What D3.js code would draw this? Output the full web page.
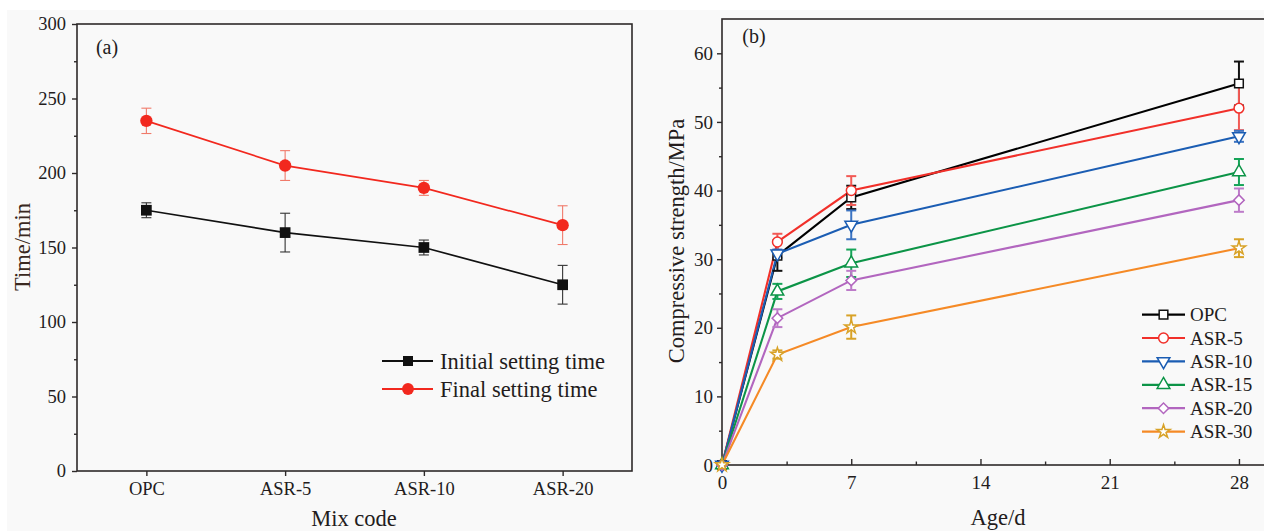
<!DOCTYPE html>
<html>
<head>
<meta charset="utf-8">
<script src="https://cdn.jsdelivr.net/npm/d3@7"></script>
<style>
body { margin: 0; background: #fff; }
svg { display: block; font-family: "Liberation Serif", "Times New Roman", serif; }
</style>
</head>
<body>
<div id="container"></div>
<script>
// panel (a) - setting time
const mixCodes = ["OPC", "ASR-5", "ASR-10", "ASR-20"]
const initialTime = [175, 160, 150, 125]
const initialErr = [5, 13, 5, 13]
const finalTime = [235, 205, 190, 165]
const finalErr = [8.5, 10, 5, 13]
const timeTicks = [0, 50, 100, 150, 200, 250, 300]

// panel (b) - compressive strength
const ages = [0, 3, 7, 28]
const seriesNames = ["OPC", "ASR-5", "ASR-10", "ASR-15", "ASR-20", "ASR-30"]
const opcStrength = [0, 30.5, 39, 55.6]
const opcErr = [0, 2.2, 1.7, 3.2]
const asr5Strength = [0, 32.5, 40, 52]
const asr5Err = [0, 1.2, 2.1, 3.2]
const asr10Strength = [0, 30.8, 35, 47.9]
const asr10Err = [0, 0.6, 2.1, 0.8]
const asr15Strength = [0, 25.3, 29.4, 42.7]
const asr15Err = [0, 1.1, 2, 1.9]
const asr20Strength = [0, 21.4, 26.9, 38.6]
const asr20Err = [0, 1.3, 1.4, 1.7]
const asr30Strength = [0, 16.1, 20.1, 31.6]
const asr30Err = [0, 0.6, 1.7, 1.3]
const ageTicks = [0, 7, 14, 21, 28]
const strengthTicks = [0, 10, 20, 30, 40, 50, 60]

const width = 1264
const height = 531
const textColor = "#231c1c"
const frameColor = "#2e2a2a"

const svg = d3.select("#container").append("svg")
    .attr("width", width)
    .attr("height", height)

svg.append("rect")
    .attr("x", 7).attr("y", 10)
    .attr("width", width - 7).attr("height", height - 10)
    .attr("fill", "#f9f9f9")

function styleAxis(g, fontSize){
    g.select(".domain").remove()
    g.selectAll("line").attr("stroke", frameColor).attr("stroke-width", 1.4)
    g.selectAll("text").attr("fill", textColor).style("font-size", fontSize + "px")
        .style("font-family", "'Liberation Serif', 'Times New Roman', serif")
}

// ---------- panel (a) ----------
const a = {left: 77, right: 632, top: 24, bottom: 471}

const xa = d3.scalePoint()
    .domain(mixCodes)
    .range([a.left, a.right])
    .padding(0.5)

const ya = d3.scaleLinear()
    .domain([0, 300])
    .range([a.bottom, a.top])

svg.append("g")
    .attr("transform", `translate(0, ${a.bottom})`)
    .call(d3.axisBottom(xa).tickSize(5).tickPadding(6))
    .call(g => styleAxis(g, 18.5))

svg.append("g")
    .attr("transform", `translate(${a.left}, 0)`)
    .call(d3.axisLeft(ya).tickValues(timeTicks).tickSize(5).tickPadding(6))
    .call(g => styleAxis(g, 18.5))

svg.append("g")
    .attr("transform", `translate(${a.left}, 0)`)
    .call(d3.axisLeft(ya).tickValues(d3.range(25, 300, 50)).tickSize(3).tickFormat(""))
    .call(g => styleAxis(g, 18.5))

svg.append("rect")
    .attr("x", a.left).attr("y", a.top)
    .attr("width", a.right - a.left).attr("height", a.bottom - a.top)
    .attr("fill", "none").attr("stroke", frameColor).attr("stroke-width", 1.6)

const setting = [
    {name: "Initial setting time", values: initialTime, err: initialErr, color: "#111", errColor: "#333", shape: "square"},
    {name: "Final setting time", values: finalTime, err: finalErr, color: "#f2281e", errColor: "#f07a6a", shape: "circle"}
]

const lineA = d3.line()
    .x((d, i) => xa(mixCodes[i]))
    .y(d => ya(d))

setting.forEach(s => {
    svg.append("path")
        .datum(s.values)
        .attr("d", lineA)
        .attr("fill", "none")
        .attr("stroke", s.color)
        .attr("stroke-width", 1.7)

    const eb = svg.append("g").attr("stroke", s.errColor).attr("stroke-width", 1.1)
    s.values.forEach((v, i) => {
        const x = xa(mixCodes[i])
        eb.append("line").attr("x1", x).attr("x2", x).attr("y1", ya(v - s.err[i])).attr("y2", ya(v + s.err[i]))
        eb.append("line").attr("x1", x - 5).attr("x2", x + 5).attr("y1", ya(v - s.err[i])).attr("y2", ya(v - s.err[i]))
        eb.append("line").attr("x1", x - 5).attr("x2", x + 5).attr("y1", ya(v + s.err[i])).attr("y2", ya(v + s.err[i]))
    })

    svg.append("g").selectAll("path")
        .data(s.values)
        .enter().append("path")
        .attr("transform", (d, i) => `translate(${xa(mixCodes[i])}, ${ya(d)})`)
        .attr("d", d3.symbol(s.shape === "square" ? d3.symbolSquare : d3.symbolCircle, s.shape === "square" ? 115 : 120)())
        .attr("fill", s.color)
})

// legend (a)
setting.forEach((s, i) => {
    const y = 361 + i * 28
    svg.append("line")
        .attr("x1", 382).attr("x2", 433).attr("y1", y).attr("y2", y)
        .attr("stroke", s.color).attr("stroke-width", 1.8)
    svg.append("path")
        .attr("transform", `translate(408, ${y})`)
        .attr("d", d3.symbol(s.shape === "square" ? d3.symbolSquare : d3.symbolCircle, s.shape === "square" ? 100 : 110)())
        .attr("fill", s.color)
    svg.append("text")
        .attr("x", 440).attr("y", y).attr("dy", "0.35em")
        .style("font-size", "22.5px")
        .attr("fill", textColor)
        .text(s.name)
})

svg.append("text")
    .attr("x", 107).attr("y", 47).attr("dy", "0.35em")
    .attr("text-anchor", "middle")
    .style("font-size", "20px").attr("fill", textColor)
    .text("(a)")

svg.append("text")
    .attr("transform", "translate(22, 247) rotate(-90)")
    .attr("text-anchor", "middle").attr("dy", "0.35em")
    .style("font-size", "22.5px").attr("fill", "#3a2820")
    .text("Time/min")

svg.append("text")
    .attr("x", 354).attr("y", 518).attr("dy", "0.35em")
    .attr("text-anchor", "middle")
    .style("font-size", "22.5px").attr("fill", textColor)
    .text("Mix code")

// ---------- panel (b) ----------
const b = {left: 722, right: 1264.8, top: 19, bottom: 465}

const xb = d3.scaleLinear()
    .domain([0, 29.4])
    .range([b.left, b.right])

const yb = d3.scaleLinear()
    .domain([0, 65])
    .range([b.bottom, b.top])

svg.append("g")
    .attr("transform", `translate(0, ${b.bottom})`)
    .call(d3.axisBottom(xb).tickValues(ageTicks).tickSize(-6).tickPadding(11))
    .call(g => styleAxis(g, 19))

svg.append("g")
    .attr("transform", `translate(0, ${b.bottom})`)
    .call(d3.axisBottom(xb).tickValues([3.5, 10.5, 17.5, 24.5]).tickSize(-3.5).tickFormat(""))
    .call(g => styleAxis(g, 19))

svg.append("g")
    .attr("transform", `translate(${b.left}, 0)`)
    .call(d3.axisLeft(yb).tickValues(strengthTicks).tickSize(5).tickPadding(4))
    .call(g => styleAxis(g, 19))

svg.append("g")
    .attr("transform", `translate(${b.left}, 0)`)
    .call(d3.axisLeft(yb).tickValues(d3.range(5, 60, 10)).tickSize(3).tickFormat(""))
    .call(g => styleAxis(g, 19))

svg.append("rect")
    .attr("x", b.left).attr("y", b.top)
    .attr("width", b.right - b.left).attr("height", b.bottom - b.top)
    .attr("fill", "none").attr("stroke", frameColor).attr("stroke-width", 1.6)

const strength = [
    {values: opcStrength, err: opcErr, color: "#000000", errColor: "#111111", mark: "#111111", symbol: d3.symbolSquare, size: 75, rot: 0},
    {values: asr5Strength, err: asr5Err, color: "#f1302a", errColor: "#f25a55", mark: "#f1302a", symbol: d3.symbolCircle, size: 75, rot: 0},
    {values: asr10Strength, err: asr10Err, color: "#1b5db3", errColor: "#3b73c2", mark: "#1b5db3", symbol: d3.symbolTriangle, size: 70, rot: 180},
    {values: asr15Strength, err: asr15Err, color: "#0c9447", errColor: "#16a458", mark: "#0c9447", symbol: d3.symbolTriangle, size: 70, rot: 0},
    {values: asr20Strength, err: asr20Err, color: "#b266bf", errColor: "#bd7bc9", mark: "#b266bf", symbol: d3.symbolSquare, size: 55, rot: 45},
    {values: asr30Strength, err: asr30Err, color: "#f58a26", errColor: "#d8a227", mark: "#d8a227", symbol: d3.symbolStar, size: 55, rot: 0}
]

const lineB = d3.line()
    .x((d, i) => xb(ages[i]))
    .y(d => yb(d))

strength.forEach(s => {
    svg.append("path")
        .datum(s.values)
        .attr("d", lineB)
        .attr("fill", "none")
        .attr("stroke", s.color)
        .attr("stroke-width", 2.1)
})

strength.forEach(s => {
    const eb = svg.append("g").attr("stroke", s.errColor).attr("stroke-width", 2)
    s.values.forEach((v, i) => {
        if (s.err[i] === 0) return
        const x = xb(ages[i])
        eb.append("line").attr("x1", x).attr("x2", x).attr("y1", yb(v - s.err[i])).attr("y2", yb(v + s.err[i]))
        eb.append("line").attr("x1", x - 5).attr("x2", x + 5).attr("y1", yb(v - s.err[i])).attr("y2", yb(v - s.err[i]))
        eb.append("line").attr("x1", x - 5).attr("x2", x + 5).attr("y1", yb(v + s.err[i])).attr("y2", yb(v + s.err[i]))
    })
})

strength.forEach(s => {
    svg.append("g").selectAll("path")
        .data(s.values)
        .enter().append("path")
        .attr("transform", (d, i) => `translate(${xb(ages[i])}, ${yb(d)}) rotate(${s.rot})`)
        .attr("d", d3.symbol(s.symbol, s.size)())
        .attr("fill", "#fff")
        .attr("stroke", s.mark)
        .attr("stroke-width", 1.5)
})

// legend (b)
strength.forEach((s, i) => {
    const y = 314.6 + i * 23.4
    svg.append("line")
        .attr("x1", 1142).attr("x2", 1185).attr("y1", y).attr("y2", y)
        .attr("stroke", s.color).attr("stroke-width", 2.2)
    svg.append("path")
        .attr("transform", `translate(1163.5, ${y}) rotate(${s.rot})`)
        .attr("d", d3.symbol(s.symbol, s.size)())
        .attr("fill", "#fff")
        .attr("stroke", s.mark)
        .attr("stroke-width", 1.5)
    svg.append("text")
        .attr("x", 1190).attr("y", y).attr("dy", "0.35em")
        .style("font-size", "19px")
        .attr("fill", textColor)
        .text(seriesNames[i])
})

svg.append("text")
    .attr("x", 754).attr("y", 36).attr("dy", "0.35em")
    .attr("text-anchor", "middle")
    .style("font-size", "20px").attr("fill", textColor)
    .text("(b)")

svg.append("text")
    .attr("transform", "translate(676, 241) rotate(-90)")
    .attr("text-anchor", "middle").attr("dy", "0.35em")
    .style("font-size", "22.5px").attr("fill", textColor)
    .text("Compressive strength/MPa")

svg.append("text")
    .attr("x", 998).attr("y", 517).attr("dy", "0.35em")
    .attr("text-anchor", "middle")
    .style("font-size", "22.5px").attr("fill", textColor)
    .text("Age/d")
</script>
</body>
</html>
